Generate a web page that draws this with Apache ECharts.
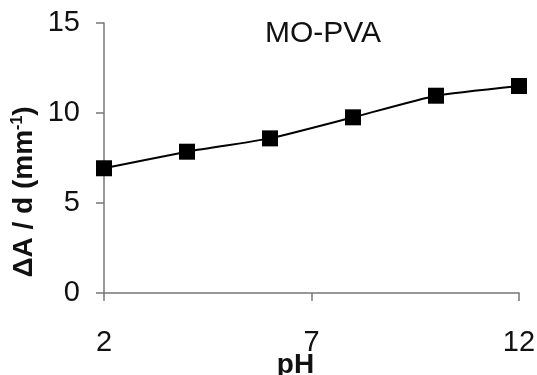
<!DOCTYPE html>
<html>
<head>
<meta charset="utf-8">
<script src="https://cdn.jsdelivr.net/npm/echarts@6/dist/echarts.min.js"></script>
<style>
	html, body { margin: 0; padding: 0; background: #fff; }
	#chart { width: 537px; height: 375px; }
</style>
</head>
<body>
<div id="chart"></div>
<script>
// data
const phValues = [2, 4, 6, 8, 10, 12];
const absorbance = [6.93, 7.85, 8.59, 9.76, 10.96, 11.5];
const xTicks = [2, 7, 12];
const yTicks = [0, 5, 10, 15];

const chart = echarts.init(document.getElementById('chart'));
const font = '"Liberation Sans", Arial, sans-serif';

const option = {
	animation: false,
	title: {
		text: 'MO-PVA',
		left: 318,
		top: 14,
		textAlign: 'center',
		textStyle: { fontFamily: font, fontSize: 30, fontWeight: 'normal', color: '#111' }
	},
	grid: { left: 104, right: 18, top: 23, bottom: 82, containLabel: false, outerBoundsMode: 'none' },
	xAxis: {
		type: 'value',
		min: 2,
		max: 12,
		name: 'pH',
		nameLocation: 'middle',
		nameGap: 58,
		nameMoveOverlap: false,
		nameTextStyle: { fontFamily: font, fontSize: 28, fontWeight: 'bold', color: '#111', padding: [0, 32, 0, 0] },
		axisLine: { show: true, lineStyle: { color: '#777', width: 1.5 } },
		axisTick: { show: true, length: 8, customValues: xTicks, lineStyle: { color: '#777', width: 1.5 } },
		axisLabel: { customValues: xTicks, margin: 35, fontFamily: font, fontSize: 29, color: '#111' },
		splitLine: { show: false }
	},
	yAxis: {
		type: 'value',
		min: 0,
		max: 15,
		interval: 5,
		name: '{n|ΔA / d (mm}{s|-1}{n|)}',
		nameLocation: 'middle',
		nameGap: 66,
		nameMoveOverlap: false,
		nameTextStyle: {
			padding: [0, 68, 0, 0],
			rich: {
				n: { fontFamily: font, fontSize: 28, fontWeight: 'bold', color: '#111' },
				s: { fontFamily: font, fontSize: 16, fontWeight: 'bold', color: '#111', verticalAlign: 'top', padding: [0, 0, 12, 0] }
			}
		},
		axisLine: { show: true, lineStyle: { color: '#777', width: 1.5 } },
		axisTick: { show: true, length: 8, lineStyle: { color: '#777', width: 1.5 } },
		axisLabel: {
			margin: 24,
			fontFamily: font,
			fontSize: 29,
			color: '#111',
			formatter: v => (yTicks.includes(v) ? String(v) : '')
		},
		splitLine: { show: false }
	},
	series: [{
		type: 'line',
		data: phValues.map((x, i) => [x, absorbance[i]]),
		smooth: 0.15,
		symbol: 'rect',
		symbolSize: 16,
		lineStyle: { color: '#000', width: 2 },
		itemStyle: { color: '#000' }
	}]
};

chart.setOption(option);
</script>
</body>
</html>
